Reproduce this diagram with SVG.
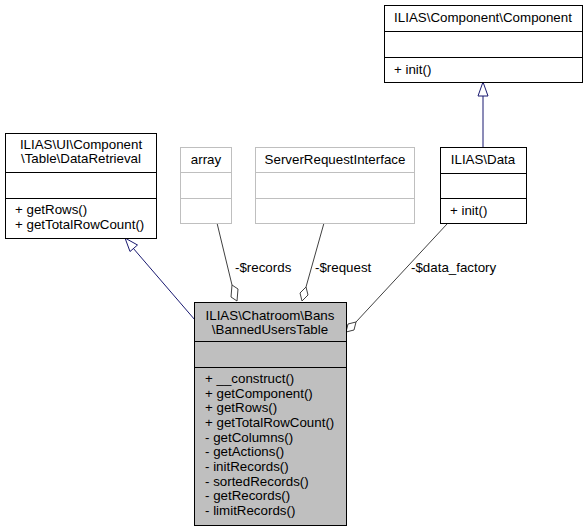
<svg xmlns="http://www.w3.org/2000/svg" width="587" height="531" viewBox="0 0 587 531">
<style>
text{font-family:"Liberation Sans",Arial,sans-serif;font-size:13.33px;fill:#000}
.c{text-anchor:middle}
.box{fill:#fff;stroke:#000;stroke-width:1}
.gbox{fill:#fff;stroke:#bfbfbf;stroke-width:1}
.main{fill:#bfbfbf;stroke:#000;stroke-width:1}
.inh{fill:none;stroke:#191970;stroke-width:1}
.inhh{fill:#fff;stroke:#191970;stroke-width:1}
.agg{fill:none;stroke:#404040;stroke-width:1}
.aggh{fill:#fff;stroke:#404040;stroke-width:1}
</style>
<rect width="587" height="531" fill="#fff"/>
<g id="edges">
<path class="inh" d="M195,320 L133,248"/>
<polygon class="inhh" points="125,238 137.5,245 130,251.5"/>
<path class="inh" d="M483,147 L483,96"/>
<polygon class="inhh" points="483,82 488,96 478,96"/>
<path class="agg" d="M217,223 L232,285"/>
<polygon class="aggh" points="237,301 231,297 232,285 238,289"/>
<text x="235" y="272">-$records</text>
<path class="agg" d="M324,223 L306,287"/>
<polygon class="aggh" points="302,301 300,293 306,287 308,295"/>
<text x="315" y="272">-$request</text>
<path class="agg" d="M447,224 L356,322"/>
<polygon class="aggh" points="346,332 348,324 356,322 354,330"/>
<text x="411" y="272">-$data_factory</text>
</g>
<g id="node-dataretrieval">
<rect class="box" x="5.5" y="133.5" width="151" height="105"/>
<text class="c" x="81" y="149">ILIAS\UI\Component</text>
<text class="c" x="81" y="163">\Table\DataRetrieval</text>
<path class="box" d="M5.5,172.5 H156.5 M5.5,198.5 H156.5"/>
<text x="15" y="214">+ getRows()</text>
<text x="15" y="229">+ getTotalRowCount()</text>
</g>
<g id="node-array">
<rect class="gbox" x="180.5" y="147.5" width="51" height="76"/>
<text class="c" x="206" y="164">array</text>
<path class="gbox" d="M180.5,172.5 H231.5 M180.5,198.5 H231.5"/>
</g>
<g id="node-serverrequest">
<rect class="gbox" x="255.5" y="147.5" width="159" height="76"/>
<text class="c" x="335" y="164">ServerRequestInterface</text>
<path class="gbox" d="M255.5,172.5 H414.5 M255.5,198.5 H414.5"/>
</g>
<g id="node-data">
<rect class="box" x="440.5" y="147.5" width="86" height="76"/>
<text class="c" x="483" y="164">ILIAS\Data</text>
<path class="box" d="M440.5,173.5 H526.5 M440.5,198.5 H526.5"/>
<text x="450" y="215">+ init()</text>
</g>
<g id="node-component">
<rect class="box" x="384.5" y="5.5" width="198" height="77"/>
<text class="c" x="483" y="22">ILIAS\Component\Component</text>
<path class="box" d="M384.5,31.5 H582.5 M384.5,57.5 H582.5"/>
<text x="394" y="74">+ init()</text>
</g>
<g id="node-bannedusers">
<rect class="main" x="194.5" y="302.5" width="152" height="223"/>
<text class="c" x="270" y="320">ILIAS\Chatroom\Bans</text>
<text class="c" x="270" y="334">\BannedUsersTable</text>
<path class="main" d="M194.5,341.5 H346.5 M194.5,367.5 H346.5"/>
<text x="205" y="383">+ __construct()</text>
<text x="205" y="397.7">+ getComponent()</text>
<text x="205" y="412.3">+ getRows()</text>
<text x="205" y="427">+ getTotalRowCount()</text>
<text x="205" y="441.7">- getColumns()</text>
<text x="205" y="456.3">- getActions()</text>
<text x="205" y="471">- initRecords()</text>
<text x="205" y="485.7">- sortedRecords()</text>
<text x="205" y="500.3">- getRecords()</text>
<text x="205" y="515">- limitRecords()</text>
</g>
</svg>
